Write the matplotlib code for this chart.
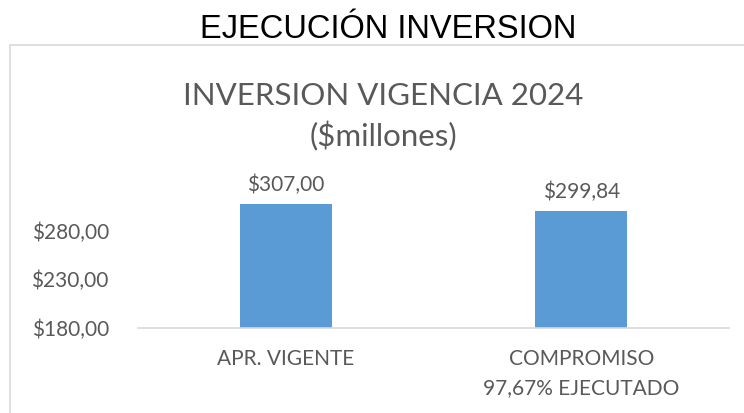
import matplotlib
matplotlib.use("Agg")
import matplotlib.pyplot as plt
from matplotlib.patches import Rectangle

# data
categories = ["APR. VIGENTE", "COMPROMISO\n97,67% EJECUTADO"]
values = [307.00, 299.84]
yticks = [180, 230, 280]

bar_color = "#5B9BD5"
text_color = "#595959"


def money(v):
    return "${:.2f}".format(v).replace(".", ",")


fig = plt.figure(figsize=(7.44, 4.13), dpi=100)

# outer chart frame (cut off at right and bottom like the screenshot)
fig.add_artist(Rectangle((10 / 744, -0.05), 1.0, 0.05 + 1 - 45 / 413,
                         transform=fig.transFigure, fill=False,
                         edgecolor="#d9d9d9", linewidth=1.2))

fig.text(388 / 744, 1 - 29 / 413, "EJECUCIÓN INVERSION", ha="center", va="center",
         fontsize=23.5, family="Liberation Sans", color="black")
fig.text(383 / 744, 1 - 117 / 413, "INVERSION VIGENCIA 2024\n($millones)",
         ha="center", va="center", fontsize=22.5, family="Lato", color=text_color,
         linespacing=1.45)

ax = fig.add_axes([138 / 744, 1 - 328 / 413, (729 - 138) / 744, (328 - 182) / 413])
x = range(len(values))
bars = ax.bar(x, values, width=0.31, color=bar_color, bottom=0)
ax.set_ylim(180, 330)
ax.set_xlim(-0.5, 1.5)
ax.set_yticks(yticks)
ax.set_yticklabels([money(v) for v in yticks], family="Lato", fontsize=15, color=text_color)
ax.set_xticks(list(x))
ax.set_xticklabels(categories, family="Lato", fontsize=15, color=text_color, linespacing=1.55)
ax.tick_params(axis="both", length=0)
ax.tick_params(axis="y", pad=21)
ax.tick_params(axis="x", pad=15)

for side in ["top", "right", "left"]:
    ax.spines[side].set_visible(False)
ax.spines["bottom"].set_color("#d9d9d9")
ax.spines["bottom"].set_linewidth(1.2)

for b, v in zip(bars, values):
    ax.annotate(money(v), (b.get_x() + b.get_width() / 2, v), xytext=(0, 7),
                textcoords="offset points", ha="center", va="bottom",
                family="Lato", fontsize=15, color=text_color)

fig.savefig("out.png", dpi=100)
